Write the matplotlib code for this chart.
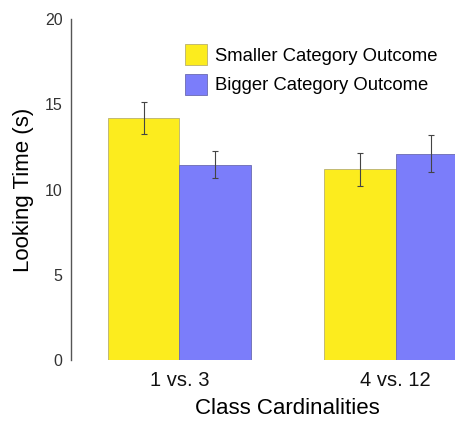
import matplotlib.pyplot as plt
import numpy as np

plt.rcParams['font.family'] = ['Liberation Sans', 'DejaVu Sans']

groups = ['1 vs. 3', '4 vs. 12']
series = ['Smaller Category Outcome', 'Bigger Category Outcome']
smaller = [14.18, 11.18]
smaller_err = [0.93, 0.95]
bigger = [11.45, 12.10]
bigger_err = [0.80, 1.08]

yellow = '#FCEC1E'
blue = '#7B7DFA'

fig = plt.figure(figsize=(4.56, 4.22), dpi=100)
ax = fig.add_axes([71 / 456, 62 / 422, 433 / 456, 341 / 422])

x = np.arange(len(groups))
w = 0.33
ekw = dict(ecolor='#444444', elinewidth=0.8, capsize=2, capthick=0.8)
ax.bar(x - w / 2, smaller, w, yerr=smaller_err, color=yellow, edgecolor='#b8b070',
       linewidth=0.6, label=series[0], error_kw=ekw)
ax.bar(x + w / 2, bigger, w, yerr=bigger_err, color=blue, edgecolor='#6a6ab0',
       linewidth=0.6, label=series[1], error_kw=ekw)

ax.set_xlim(-0.5, 1.5)
ax.set_ylim(0, 20)
ax.set_yticks([0, 5, 10, 15, 20])
ax.set_xticks(x)
ax.set_xticklabels(groups)

for s in ['top', 'right', 'bottom']:
    ax.spines[s].set_visible(False)
ax.spines['left'].set_color('#555555')
ax.spines['left'].set_linewidth(1.0)
ax.tick_params(axis='y', length=0, pad=6, labelsize=11.5, labelcolor='#333333')
ax.tick_params(axis='x', length=0, pad=8, labelsize=14.5, labelcolor='#111111')

ax.set_ylabel('Looking Time (s)', fontsize=16, labelpad=8)
ax.set_xlabel('Class Cardinalities', fontsize=16, labelpad=6)

ax.legend(loc='upper left', bbox_to_anchor=(185 / 456, 1 - 44 / 422),
          bbox_transform=fig.transFigure, frameon=False, fontsize=13.3,
          borderpad=0, borderaxespad=0, handlelength=1.2, handleheight=1.4,
          handletextpad=0.45, labelspacing=0.45)

fig.savefig('out.png', dpi=100)
